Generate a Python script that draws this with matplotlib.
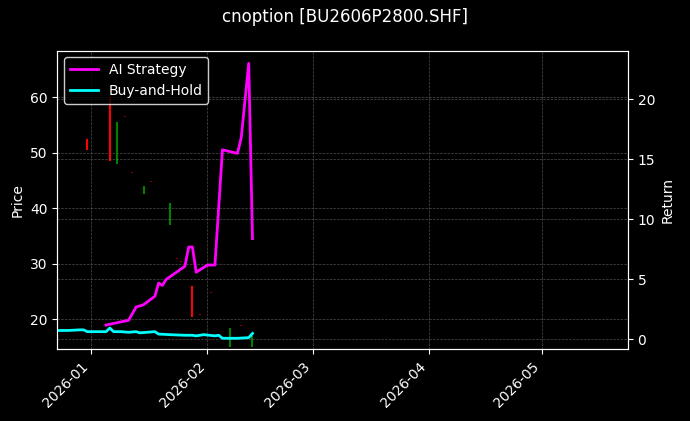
import matplotlib
matplotlib.use("Agg")
import matplotlib.pyplot as plt
import matplotlib.dates as mdates
import pandas as pd

plt.style.use("dark_background")

strat_dates = ["2026-01-05","2026-01-11","2026-01-13","2026-01-15","2026-01-18","2026-01-19","2026-01-20",
               "2026-01-21","2026-01-26","2026-01-27","2026-01-28","2026-01-29","2026-02-01","2026-02-03",
               "2026-02-05","2026-02-09","2026-02-10","2026-02-12","2026-02-13"]
strat_vals = [1.2,1.6,2.7,2.9,3.6,4.7,4.5,5.0,6.1,7.7,7.7,5.6,6.2,6.2,15.8,15.5,16.8,23.0,8.4]

bh_dates = ["2025-12-23","2025-12-26","2025-12-29","2025-12-30","2025-12-31","2026-01-05","2026-01-06",
            "2026-01-07","2026-01-09","2026-01-11","2026-01-13","2026-01-14","2026-01-16","2026-01-18",
            "2026-01-19","2026-01-22","2026-01-26","2026-01-28","2026-01-29","2026-01-31","2026-02-03",
            "2026-02-04","2026-02-05","2026-02-09","2026-02-12","2026-02-13"]
bh_vals = [0.75,0.75,0.8,0.8,0.65,0.65,0.95,0.65,0.65,0.6,0.65,0.55,0.6,0.65,0.45,0.4,0.35,0.35,0.3,0.4,
           0.3,0.35,0.1,0.1,0.15,0.5]

c_dates = ["2025-12-31","2026-01-06","2026-01-08","2026-01-10","2026-01-12","2026-01-15","2026-01-17",
           "2026-01-22","2026-01-24","2026-01-25","2026-01-28","2026-01-30","2026-02-02","2026-02-07",
           "2026-02-10","2026-02-13"]
c_open  = [52.5,60.0,48.0,56.6,46.5,42.5,45.0,37.0,31.0,30.5,26.0,21.0,25.0,15.0,19.0,15.0]
c_close = [50.5,48.5,55.5,56.4,46.3,44.0,44.8,41.0,30.8,30.3,20.5,20.8,24.8,18.5,18.8,17.0]

fig, ax = plt.subplots(figsize=(6.9, 4.21), dpi=100)
fig.patch.set_facecolor("black")
ax.set_facecolor("black")
cd = pd.to_datetime(c_dates)
for d, o, c in zip(cd, c_open, c_close):
    col = "red" if c < o else "green"
    if abs(c - o) < 0.5:
        col = "#8b0000"
    ax.vlines(d, min(o, c), max(o, c), color=col, linewidth=1.5)
ax.set_ylim(14.6, 68.4)
ax.set_ylabel("Price")
ax.grid(True, linestyle="--", linewidth=0.5, color="gray", alpha=0.6)

ax2 = ax.twinx()
ax2.plot(pd.to_datetime(strat_dates), strat_vals, color="magenta", linewidth=2, label="AI Strategy")
ax2.plot(pd.to_datetime(bh_dates), bh_vals, color="cyan", linewidth=2, label="Buy-and-Hold")
ax2.set_ylim(-0.83, 24.07)
ax2.set_ylabel("Return")
ax2.grid(True, linestyle="--", linewidth=0.5, color="gray", alpha=0.6)
ax2.legend(loc="upper left", facecolor="black", edgecolor="white")

ax.set_xlim(pd.Timestamp("2025-12-23"), pd.Timestamp("2026-05-24"))
ax.xaxis.set_major_locator(mdates.MonthLocator())
ax.xaxis.set_major_formatter(mdates.DateFormatter("%Y-%m"))
for lbl in ax.get_xticklabels():
    lbl.set_rotation(45)
    lbl.set_ha("right")
fig.suptitle("cnoption [BU2606P2800.SHF]")
fig.subplots_adjust(left=0.083, right=0.91, top=0.88, bottom=0.17)
fig.savefig("out.png", dpi=100, facecolor="black")
